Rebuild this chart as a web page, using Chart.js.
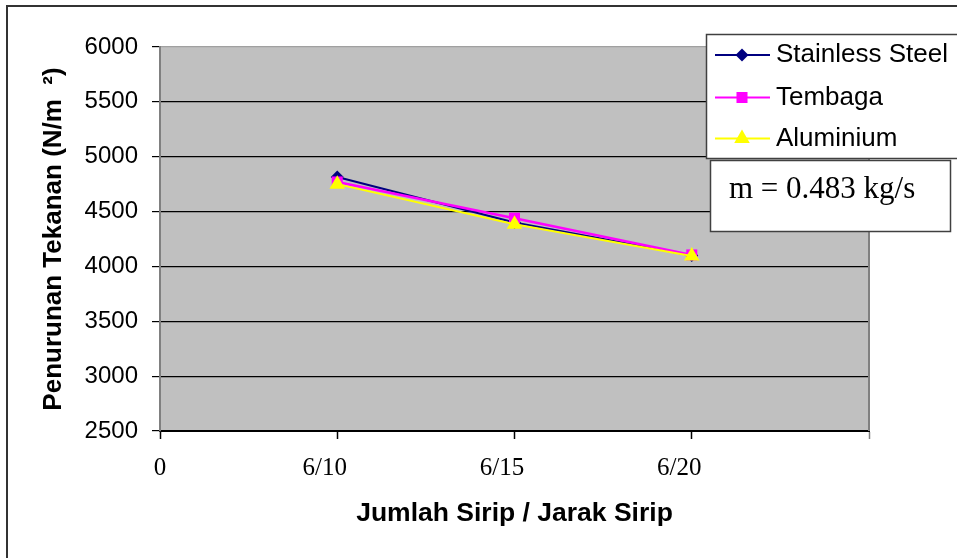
<!DOCTYPE html>
<html><head><meta charset="utf-8">
<script src="https://cdn.jsdelivr.net/npm/chart.js@4/dist/chart.umd.min.js"></script>
<style>html,body{margin:0;padding:0;background:#fff;overflow:hidden}#wrap{position:relative;width:957px;height:558px}canvas{display:block}</style>
</head><body><div id="wrap"><canvas id="c" width="957" height="558"></canvas></div>
<script>
// ---- data ----
const categories = ['0', '6/10', '6/15', '6/20', ''];
const pointCategories = ['6/10', '6/15', '6/20'];
const seriesNames = ['Stainless Steel', 'Tembaga', 'Aluminium'];
const stainlessSteel = [4815, 4400, 4100];
const tembaga = [4770, 4440, 4105];
const aluminium = [4750, 4385, 4095];
const yMin = 2500, yMax = 6000, yStep = 500;
const xTitle = 'Jumlah Sirip / Jarak Sirip';
const yTitle = 'Penurunan Tekanan (N/m  \u00B2)';
const noteText = 'm = 0.483 kg/s';

const SANS = '"Liberation Sans", Arial, sans-serif';
const SERIF = '"Liberation Serif", "Times New Roman", serif';

function toPoints(vals) { return vals.map((v, i) => ({ x: categories.indexOf(pointCategories[i]), y: v })); }

const styles = [
  { color: '#000080', pointStyle: 'rectRot', radius: 6.5, width: 2, order: 2 },
  { color: '#FF00FF', pointStyle: 'rect', radius: 7.8, width: 2.5, order: 1 },
  { color: '#FFFF00', pointStyle: 'triangle', radius: 9, width: 2, order: 0 }
];
const seriesValues = [stainlessSteel, tembaga, aluminium];
const datasets = seriesNames.map((name, i) => ({
  label: name,
  data: toPoints(seriesValues[i]),
  borderColor: styles[i].color,
  backgroundColor: styles[i].color,
  borderWidth: styles[i].width,
  pointStyle: styles[i].pointStyle,
  pointRadius: styles[i].radius,
  pointHoverRadius: styles[i].radius,
  pointBorderWidth: 0,
  pointBackgroundColor: styles[i].color,
  tension: 0,
  order: styles[i].order
}));

function drawMarker(ctx, st, x, y) {
  ctx.save();
  ctx.fillStyle = st.color;
  ctx.beginPath();
  const r = st.radius;
  if (st.pointStyle === 'rectRot') {
    ctx.moveTo(x - r, y); ctx.lineTo(x, y - r); ctx.lineTo(x + r, y); ctx.lineTo(x, y + r);
  } else if (st.pointStyle === 'rect') {
    const s = Math.SQRT1_2 * r; ctx.rect(x - s, y - s, 2 * s, 2 * s);
  } else {
    const a = Math.PI * 2 / 3;
    for (let k = 0; k < 3; k++) { const ang = k * a; const px = x + Math.sin(ang) * r, py = y - Math.cos(ang) * r; k ? ctx.lineTo(px, py) : ctx.moveTo(px, py); }
  }
  ctx.closePath(); ctx.fill(); ctx.restore();
}

const framePlugin = {
  id: 'frame',
  beforeDraw(chart) {
    const ctx = chart.ctx, a = chart.chartArea;
    ctx.save();
    ctx.fillStyle = '#fff'; ctx.fillRect(0, 0, chart.width, chart.height);
    ctx.strokeStyle = '#333'; ctx.lineWidth = 2;
    ctx.beginPath(); ctx.moveTo(7, chart.height); ctx.lineTo(7, 6); ctx.lineTo(chart.width, 6); ctx.stroke();
    ctx.fillStyle = '#C0C0C0'; ctx.fillRect(a.left, a.top, a.right - a.left, a.bottom - a.top);
    ctx.restore();
  },
  beforeDatasetsDraw(chart) {
    const ctx = chart.ctx, a = chart.chartArea;
    ctx.save(); ctx.strokeStyle = '#808080'; ctx.lineWidth = 2;
    ctx.beginPath(); ctx.moveTo(a.right, a.top); ctx.lineTo(a.right, a.bottom); ctx.stroke();
    ctx.restore();
  },
  afterDraw(chart) {
    const ctx = chart.ctx;
    ctx.save();
    // legend box
    ctx.fillStyle = '#fff'; ctx.fillRect(706, 34, 260, 124);
    ctx.strokeStyle = '#404040'; ctx.lineWidth = 1.5; ctx.strokeRect(706.5, 34.5, 260, 124);
    const rows = [55, 97.5, 138.5];
    chart.data.datasets.forEach((ds, i) => {
      const y = rows[i];
      ctx.strokeStyle = ds.borderColor; ctx.lineWidth = 2;
      ctx.beginPath(); ctx.moveTo(715, y); ctx.lineTo(770, y); ctx.stroke();
      drawMarker(ctx, styles[i], 742, y);
      ctx.fillStyle = '#000'; ctx.font = '26px ' + SANS; ctx.textBaseline = 'middle'; ctx.textAlign = 'left';
      ctx.fillText(ds.label, 776, y);
    });
    // note box
    ctx.fillStyle = '#fff'; ctx.fillRect(710, 160, 240, 72);
    ctx.strokeStyle = '#404040'; ctx.lineWidth = 1.5; ctx.strokeRect(710.5, 160.5, 240, 71);
    ctx.fillStyle = '#000'; ctx.font = '31px ' + SERIF; ctx.textBaseline = 'middle'; ctx.textAlign = 'left';
    ctx.fillText(noteText, 729, 190);
    ctx.restore();
  }
};

new Chart(document.getElementById('c'), {
  type: 'line',
  data: { datasets },
  options: {
    responsive: false, animation: false, devicePixelRatio: 1,
    layout: { padding: { left: 0, right: 88, top: 47, bottom: 0 } },
    plugins: { legend: { display: false }, tooltip: { enabled: false } },
    scales: {
      x: {
        type: 'linear', min: 0, max: categories.length - 1,
        afterFit: s => { s.height = 127; },
        ticks: {
          stepSize: 1, autoSkip: false, maxRotation: 0, padding: 14,
          color: '#000', font: { family: SERIF, size: 25 },
          callback: v => { const l = categories[v]; return (l && v > 0) ? l + '    ' : l; }
        },
        grid: { drawOnChartArea: false, drawTicks: true, tickLength: 8,
          tickColor: c => (c.index === categories.length - 1 ? '#808080' : '#000'), tickWidth: 1.5 },
        border: { color: '#000', width: 2 },
        title: { display: true, text: xTitle, color: '#000', font: { family: SANS, size: 26.5, weight: 'bold' }, padding: { top: 0, bottom: 28 } }
      },
      y: {
        min: yMin, max: yMax,
        afterFit: s => { s.width = 160; },
        ticks: { stepSize: yStep, padding: 14, color: '#000', font: { family: SANS, size: 24 }, callback: v => String(v) },
        grid: { color: c => (c.tick && c.tick.value === yMax ? '#A0A0A0' : '#000'), lineWidth: 1.2, tickLength: 8, tickColor: '#000' },
        border: { color: '#808080', width: 2 },
        title: { display: true, text: yTitle, color: '#000', font: { family: SANS, size: 26, weight: 'bold' }, padding: { top: 38, bottom: 0 } }
      }
    }
  },
  plugins: [framePlugin]
});
</script></body></html>
